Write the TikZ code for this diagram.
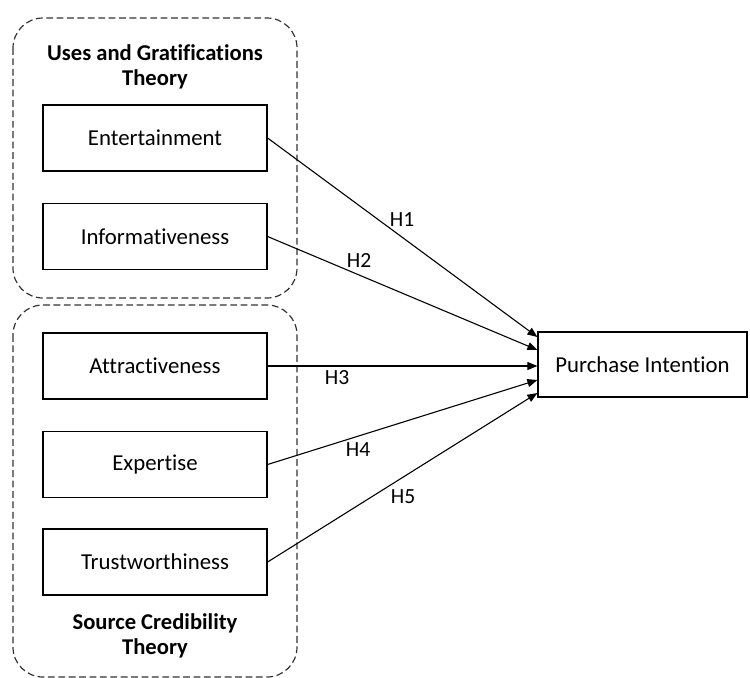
\documentclass[tikz,border=0pt]{standalone}
\usepackage{fontspec}
\setmainfont{Carlito}[RawFeature=-liga]
\usetikzlibrary{arrows.meta,positioning}

\tikzset{
	construct/.style={draw, line width=0.6pt, minimum width=112pt, minimum height=33pt, inner sep=0pt, font=\fontsize{11.4}{13}\selectfont},
	theorybox/.style={draw=black!80, line width=0.6pt, dash pattern=on 3.4pt off 1.8pt, rounded corners=15pt},
	theory/.style={align=center, font=\fontsize{11.3}{12.5}\selectfont\bfseries},
	hyp/.style={inner sep=0pt, font=\fontsize{10.8}{12}\selectfont},
	effect/.style={line width=0.55pt, -{Triangle[length=5pt,width=4pt]}}
}

\begin{document}
\begin{tikzpicture}[x=0.5pt, y=-0.5pt]
	\useasboundingbox (0,0) rectangle (750,677);

	% Dashed theory groups
	\draw[theorybox] (13,18) rectangle (297,298);
	\draw[theorybox] (13,305) rectangle (297,677);
	\node[theory] (ugt) at (155,67) {Uses and Gratifications\\Theory};
	\node[theory] (sct) at (155,636) {Source Credibility\\Theory};

	% Constructs
	\node[construct] (ent) at (155,138) {Entertainment};
	\node[construct] (inf) at (155,236.5) {Informativeness};
	\node[construct] (att) at (155,366) {Attractiveness};
	\node[construct] (exp) at (155,464.5) {Expertise};
	\node[construct] (tru) at (155,562) {Trustworthiness};
	\node[construct, minimum width=104.5pt, minimum height=32.5pt] (pi) at (642.5,364.5) {Purchase Intention};

	% Hypotheses
	\draw[effect] (ent.east) -- ([yshift=13.75pt]pi.west);
	\draw[effect] (inf.east) -- ([yshift=7.25pt]pi.west);
	\draw[effect] (att.east) -- (att.east -| pi.west);
	\draw[effect] (exp.east) -- ([yshift=-7.75pt]pi.west);
	\draw[effect] (tru.east) -- ([yshift=-14.25pt]pi.west);

	\node[hyp] (h1) at (402,220) {H1};
	\node[hyp] (h2) at (359,260) {H2};
	\node[hyp] (h3) at (337,378) {H3};
	\node[hyp] (h4) at (358,450) {H4};
	\node[hyp] (h5) at (403,497) {H5};
\end{tikzpicture}
\end{document}
